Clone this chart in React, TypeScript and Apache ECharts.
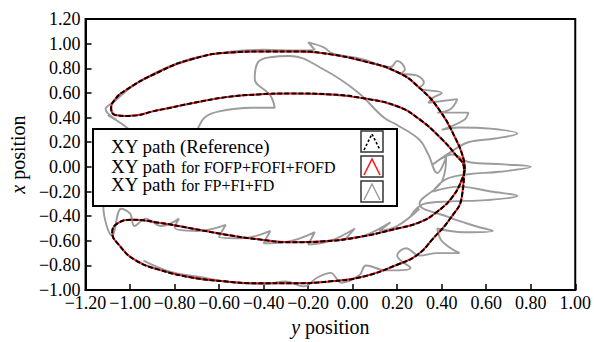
import React, { useEffect, useRef } from "react";
import * as echarts from "echarts";

// Reference XY path (horizontal = y position, vertical = x position)
const refY = [0.504, 0.496, 0.46, 0.393, 0.304, 0.2, 0.049, -0.098, -0.246, -0.397, -0.545, -0.723, -0.871, -1.022, -1.071, -1.085, -1.067, -1.013,
  -0.871, -0.723, -0.576, -0.424, -0.277, -0.098, 0.049, 0.2, 0.304, 0.393, 0.46, 0.5,
  0.491, 0.4375, 0.362, 0.29, 0.2, 0.049, -0.098, -0.277, -0.424, -0.576, -0.723, -0.871, -0.978, -1.049, -1.08, -1.058, -0.991,
  -0.871, -0.723, -0.576, -0.424, -0.277, -0.129, 0.022, 0.2, 0.3, 0.375, 0.45, 0.496, 0.504];
const refX = [-0.02, 0.079, 0.238, 0.453, 0.635, 0.77, 0.858, 0.913, 0.937, 0.937, 0.929, 0.874, 0.77, 0.62, 0.54, 0.477, 0.421, 0.413,
  0.461, 0.516, 0.564, 0.588, 0.596, 0.588, 0.556, 0.492, 0.381, 0.238, 0.103, -0.016,
  -0.238, -0.421, -0.58, -0.715, -0.794, -0.89, -0.929, -0.945, -0.945, -0.929, -0.898, -0.834, -0.755, -0.635, -0.532, -0.461, -0.429,
  -0.453, -0.5, -0.548, -0.588, -0.612, -0.604, -0.572, -0.5, -0.45, -0.37, -0.24, -0.08, -0.02];

// FOFP+FOFI+FOFD path (coincides with the reference in the picture)
const fofY = [...refY];
const fofX = [...refX];

// FP+FI+FD path
const fpY = [-0.95, -1.03, -1.10, -1.06, -1.11, -1.07, -1.00, -0.88, -0.72, -0.55, -0.40, -0.25, -0.17, -0.20, -0.13, -0.09, 0.04, 0.17, 0.20, 0.235, 0.22, 0.29, 0.32, 0.30,
  0.40, 0.36, 0.34, 0.47, 0.44, 0.38, 0.52, 0.50, 0.40, 0.48, 0.62, 0.74, 0.64, 0.52, 0.44, 0.36, 0.45, 0.52, 0.68, 0.80, 0.66, 0.52, 0.42, 0.36, 0.48, 0.62, 0.74, 0.60, 0.44,
  0.32, 0.26, 0.30, 0.20, 0.12, 0.17, 0.05, -0.03, 0.01, -0.10, -0.20, -0.17, -0.30, -0.40, -0.37, -0.50, -0.60, -0.57, -0.70, -0.80, -0.78, -0.86,
  -0.93, -0.98, -1.00, -1.04, -1.08, -1.12, -1.06, -0.85, -0.70,
  -0.665, -0.60, -0.455, -0.35, -0.37, -0.44, -0.425, -0.37, -0.28, -0.13, 0.02, 0.14, 0.20,
  0.30, 0.34, 0.38, 0.42, 0.40, 0.30, 0.42, 0.55, 0.63, 0.50, 0.38, 0.40, 0.48, 0.38, 0.30,
  0.24, 0.20, 0.26, 0.15, 0.06, 0.03, -0.05, -0.10, -0.16, -0.22, -0.30, -0.40, -0.55, -0.70, -0.82, -0.94];
const fpX = [0.22, 0.34, 0.42, 0.38, 0.47, 0.53, 0.64, 0.77, 0.88, 0.935, 0.95, 0.945, 0.95, 1.01, 0.97, 0.92, 0.875, 0.81, 0.86, 0.79, 0.76, 0.74, 0.68, 0.64,
  0.60, 0.56, 0.52, 0.55, 0.47, 0.44, 0.44, 0.38, 0.30, 0.32, 0.31, 0.27, 0.23, 0.20, 0.12, 0.02, 0.10, 0.04, 0.02, 0.00, -0.04, -0.06, -0.10, -0.20, -0.16, -0.20, -0.235, -0.27, -0.28,
  -0.30, -0.40, -0.34, -0.48, -0.52, -0.45, -0.56, -0.58, -0.50, -0.60, -0.63, -0.53, -0.61, -0.62, -0.52, -0.58, -0.57, -0.47, -0.52, -0.49, -0.42, -0.48,
  -0.42, -0.48, -0.38, -0.34, -0.56, -0.32, -0.22, -0.05, 0.30,
  0.40, 0.45, 0.48, 0.48, 0.58, 0.715, 0.85, 0.89, 0.90, 0.79, 0.61, 0.40, 0.34,
  0.22, 0.10, -0.05, 0.08, -0.12, -0.30, -0.40, -0.48, -0.52, -0.53, -0.50, -0.60, -0.70, -0.70, -0.72,
  -0.66, -0.72, -0.82, -0.84, -0.80, -0.88, -0.94, -0.86, -0.90, -0.97, -0.93, -0.95, -0.935, -0.89, -0.85, -0.76];

const xTicksMin = -1.2, xTicksMax = 1.0, yTicksMin = -1.0, yTicksMax = 1.2, tickStep = 0.2;
const legendLabels = [
  ["XY path", " (Reference)"],
  ["XY path", "for FOFP+FOFI+FOFD"],
  ["XY path", "for FP+FI+FD"],
];

const SERIF = '"Liberation Serif", "Times New Roman", serif';

const fmt = (v: number) => {
  if (Math.abs(v) < 1e-9) return "0.00";
  return (v < 0 ? "\u2212" : "") + Math.abs(v).toFixed(2);
};

const zip = (a: number[], b: number[]) => a.map((v, i) => [v, b[i]]);

export default function App() {
  const ref = useRef<HTMLDivElement>(null);
  useEffect(() => {
    if (!ref.current) return;
    const chart = echarts.init(ref.current, undefined, { renderer: "svg" });
    const iconX = 361, iconW = 22, iconH = 21;
    const iconYs = [131, 156, 181];
    const iconStyles = [
      { stroke: "#000", lineWidth: 1.6, lineDash: [2.5, 2] },
      { stroke: "#ff1a1a", lineWidth: 1.6 },
      { stroke: "#9a9a9a", lineWidth: 1.4 },
    ];
    const baselines = [156, 175.5, 194];
    const graphic: any[] = [
      { type: "rect", z: 100, shape: { x: 93, y: 129, width: 304, height: 77 }, style: { fill: "#fff", stroke: "#000", lineWidth: 2 } },
    ];
    legendLabels.forEach((lab, i) => {
      graphic.push({
        type: "text", z: 101, x: 111, y: baselines[i],
        style: { text: lab[0] + (i === 0 ? lab[1] : ""), fontFamily: SERIF, fontSize: 19, fill: "#000", verticalAlign: "bottom", align: "left" },
      });
      if (i > 0) {
        graphic.push({
          type: "text", z: 101, x: 181, y: baselines[i] - 0.5,
          style: { text: lab[1], fontFamily: SERIF, fontSize: 16, fill: "#000", verticalAlign: "bottom", align: "left" },
        });
      }
      const y = iconYs[i];
      graphic.push({ type: "rect", z: 101, shape: { x: iconX, y, width: iconW, height: iconH }, style: { fill: "#fff", stroke: "#333", lineWidth: 1.5 } });
      graphic.push({
        type: "polyline", z: 102,
        shape: { points: [[iconX + 3, y + iconH - 2], [iconX + iconW / 2, y + 3], [iconX + iconW - 3, y + iconH - 2]] },
        style: { fill: "none", ...iconStyles[i] },
      });
    });

    const axisCommon = {
      type: "value" as const,
      interval: tickStep,
      nameLocation: "middle" as const,
      axisLine: { show: true, onZero: false, lineStyle: { color: "#000", width: 2 } },
      axisTick: { show: true, inside: true, length: 6, lineStyle: { color: "#000", width: 1.5 } },
      splitLine: { show: false },
    };

    chart.setOption({
      animation: false,
      grid: { left: 83, right: 18, top: 19, bottom: 46, show: true, borderColor: "#000", borderWidth: 2, backgroundColor: "transparent" },
      xAxis: {
        ...axisCommon,
        min: xTicksMin, max: xTicksMax,
        name: "{i|y} position",
        nameGap: 24,
        nameTextStyle: { fontFamily: SERIF, fontSize: 20, color: "#000", rich: { i: { fontFamily: SERIF, fontSize: 20, fontStyle: "italic", color: "#000" } } },
        axisLabel: { fontFamily: SERIF, fontSize: 18, color: "#000", margin: 4, formatter: fmt, showMinLabel: true, showMaxLabel: true, hideOverlap: false },
      },
      yAxis: {
        ...axisCommon,
        min: yTicksMin, max: yTicksMax,
        name: "{i|x} position",
        nameGap: 53,
        nameTextStyle: { fontFamily: SERIF, fontSize: 20, color: "#000", rich: { i: { fontFamily: SERIF, fontSize: 20, fontStyle: "italic", color: "#000" } } },
        axisLabel: { fontFamily: SERIF, fontSize: 18, color: "#000", margin: 5, formatter: fmt, showMinLabel: true, showMaxLabel: true, hideOverlap: false },
      },
      series: [
        {
          name: "XY path for FP+FI+FD", type: "line", data: zip(fpY, fpX), showSymbol: false, smooth: 0.4, z: 2,
          lineStyle: { color: "#9c9c9c", width: 1.9 },
        },
        {
          name: "XY path for FOFP+FOFI+FOFD", type: "line", data: zip(fofY, fofX), showSymbol: false, smooth: 0.5, z: 3,
          lineStyle: { color: "#ff1a1a", width: 2 },
        },
        {
          name: "XY path (Reference)", type: "line", data: zip(refY, refX), showSymbol: false, smooth: 0.5, z: 4,
          lineStyle: { color: "#000", width: 2, type: [5, 2] },
        },
      ],
      graphic,
    });
    return () => chart.dispose();
  }, []);
  return <div ref={ref} style={{ position: "fixed", left: 0, top: 0, width: 594, height: 342, background: "#fff" }} />;
}
